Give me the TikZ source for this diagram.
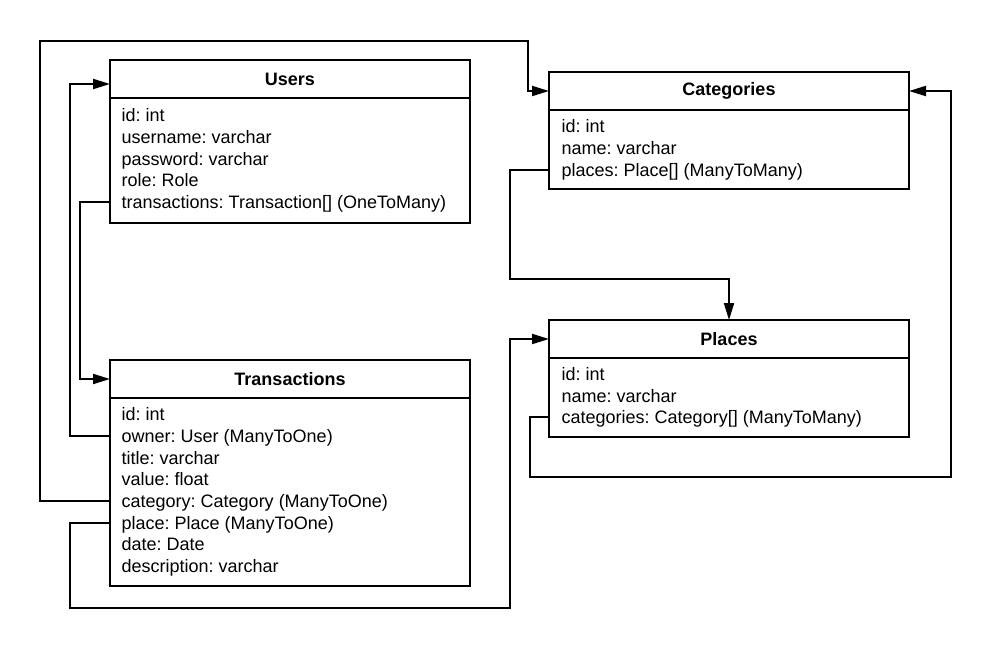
\documentclass[tikz,border=0pt]{standalone}
\usepackage{fontspec}
\setmainfont{Liberation Sans}
\frenchspacing
\usepackage{tikz}
\usetikzlibrary{arrows.meta,positioning,calc}
\tikzset{
  tblhead/.style={
    rectangle, draw=black, line width=2pt, anchor=north west,
    minimum width=360pt, minimum height=38pt, inner sep=0pt, outer sep=0pt,
    font=\fontsize{18}{21.7}\selectfont\bfseries
  },
  tblbody/.style={
    rectangle, draw=black, line width=2pt, anchor=north,
    minimum width=360pt, minimum height=#1, inner sep=0pt, outer sep=0pt
  },
  tblbody/.default=79pt,
  rowtext/.style={
    anchor=base west, inner sep=0pt, text height=13pt, text depth=0pt,
    font=\fontsize{18}{21.7}\selectfont
  },
  relarrow/.style={
    -{Triangle[length=17pt,width=10pt]}, line width=2pt
  },
}

\begin{document}
\begin{tikzpicture}[x=1pt,y=-1pt]
  \useasboundingbox (0,0) rectangle (991,650);

  % Users
  \node[tblhead] (users) at (110,60) {Users};
  \node[tblbody=125pt] (users-body) at (users.south) {};
  \node[rowtext] (u-id) at (121.5,121.7) {id: int};
  \node[rowtext] (u-name) at (121.5,143.4) {username: varchar};
  \node[rowtext] (u-pass) at (121.5,165.1) {password: varchar};
  \node[rowtext] (u-role) at (121.5,186.8) {role: Role};
  \node[rowtext] (u-trans) at (121.5,208.5) {transactions: Transaction[] (OneToMany)};

  % Transactions
  \node[tblhead] (trans) at (110,360) {Transactions};
  \node[tblbody=188pt] (trans-body) at (trans.south) {};
  \node[rowtext] (t-id) at (121.5,420.7) {id: int};
  \node[rowtext] (t-owner) at (121.5,442.4) {owner: User (ManyToOne)};
  \node[rowtext] (t-title) at (121.5,464.1) {title: varchar};
  \node[rowtext] (t-value) at (121.5,485.8) {value: float};
  \node[rowtext] (t-cat) at (121.5,507.5) {category: Category (ManyToOne)};
  \node[rowtext] (t-place) at (121.5,529.2) {place: Place (ManyToOne)};
  \node[rowtext] (t-date) at (121.5,550.9) {date: Date};
  \node[rowtext] (t-desc) at (121.5,572.6) {description: varchar};

  % Categories
  \node[tblhead] (cat) at (549,72) {Categories};
  \node[tblbody] (cat-body) at (cat.south) {};
  \node[rowtext] (c-id) at (561.5,133) {id: int};
  \node[rowtext] (c-name) at (561.5,154.7) {name: varchar};
  \node[rowtext] (c-places) at (561.5,176.4) {places: Place[] (ManyToMany)};

  % Places
  \node[tblhead] (places) at (549,320) {Places};
  \node[tblbody] (places-body) at (places.south) {};
  \node[rowtext] (p-id) at (561.5,380.5) {id: int};
  \node[rowtext] (p-name) at (561.5,402.2) {name: varchar};
  \node[rowtext] (p-cats) at (561.5,423.9) {categories: Category[] (ManyToMany)};

  % Lanes for the long connectors
  \coordinate (top-lane) at (40,41);
  \coordinate (bottom-lane) at (70,608);
  \coordinate (mid-lane) at (510,279);
  \coordinate (right-lane) at (951,477);

  % Relations
  \draw[relarrow] (u-trans.west -| users.west) -- ++(-30,0) |- (trans.west);
  \draw[relarrow] (t-owner.west -| trans.west) -- ++(-40,0) |- ([yshift=-5pt]users.west);
  \draw[relarrow] (t-cat.west -| trans.west) -| (top-lane)
    -| ([xshift=-21pt]cat.west) -- (cat.west);
  \draw[relarrow] (t-place.west -| trans.west) -| (bottom-lane)
    -| ([xshift=-39pt]places.west) -- (places.west);
  \draw[relarrow] (c-places.west -| cat.west) -| (mid-lane) -| (places.north);
  \draw[relarrow] (p-cats.west -| places.west) -- ++(-19,0) |- (right-lane)
    |- (cat.east);
\end{tikzpicture}
\end{document}
